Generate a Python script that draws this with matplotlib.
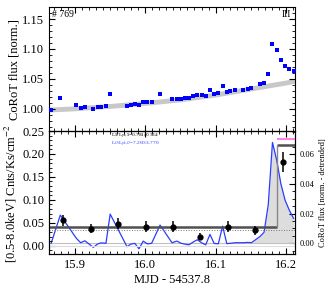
import numpy as np
import matplotlib
matplotlib.use("Agg")
import matplotlib.pyplot as plt
from matplotlib.ticker import MultipleLocator

plt.rcParams['font.family'] = ['Liberation Serif', 'DejaVu Serif']
plt.rcParams['mathtext.fontset'] = 'stix'

# CoRoT optical light curve (normalised), MJD - 54537.8
mjd = [15.866, 15.879, 15.902, 15.908, 15.914, 15.926, 15.932, 15.937, 15.944, 15.950,
       15.974, 15.979, 15.985, 15.991, 15.997, 16.003, 16.009, 16.021, 16.038, 16.045,
       16.051, 16.056, 16.062, 16.068, 16.074, 16.080, 16.086, 16.092, 16.098, 16.104,
       16.110, 16.116, 16.121, 16.128, 16.139, 16.146, 16.151, 16.163, 16.169, 16.175,
       16.181, 16.187, 16.193, 16.199, 16.205, 16.211]
flux = [0.998, 1.018, 1.006, 1.001, 1.003, 1.000, 1.003, 1.003, 1.004, 1.025,
        1.004, 1.007, 1.008, 1.006, 1.011, 1.011, 1.011, 1.025, 1.016, 1.017,
        1.017, 1.018, 1.018, 1.021, 1.023, 1.023, 1.022, 1.031, 1.025, 1.026,
        1.038, 1.028, 1.029, 1.031, 1.032, 1.033, 1.035, 1.041, 1.043, 1.059,
        1.108, 1.099, 1.081, 1.072, 1.067, 1.063]
# detrended flux (right axis)
resid = [0.0, 0.019, 0.0033, 0.0004, 0.0017, -0.0027, -0.0005, 0.0003, 0.0, 0.0197,
         -0.0023, -0.0006, 0.0, -0.0037, 0.0015, -0.0004, 0.0, 0.0123, 0.0004, 0.0015,
         0.0, -0.0005, -0.001, 0.0008, 0.0024, 0.0004, -0.001, 0.006, -0.0001, -0.0003,
         0.0116, -0.0002, 0.0, 0.0004, 0.0004, 0.0006, 0.0004, 0.0045, 0.0074, 0.026,
         0.068, 0.056, 0.040, 0.029, 0.0223, 0.0168]
flare_start = 36  # first index of the shaded flare region

# slow trend fitted to the optical data
trend_mjd = [15.863, 15.90, 15.95, 16.00, 16.05, 16.10, 16.15, 16.20, 16.213]
trend_flux = [0.998, 1.000, 1.004, 1.009, 1.015, 1.023, 1.033, 1.043, 1.046]

# X-ray count rates
xmjd = [15.883, 15.922, 15.961, 16.001, 16.039, 16.078, 16.118, 16.156, 16.196]
rate = [0.055, 0.037, 0.048, 0.041, 0.041, 0.020, 0.041, 0.034, 0.182]
rate_err = [0.012, 0.010, 0.012, 0.012, 0.012, 0.008, 0.012, 0.010, 0.022]

# bayesian blocks
block_edges = [15.863, 16.187, 16.213]
block_rates = [0.040, 0.220]
quiet_level = 0.035
pink_edges = [16.187, 16.213]
pink_level = 0.233

xlim = (15.863, 16.213)

fig = plt.figure(figsize=(3.27, 2.89), dpi=100)
ax_t = fig.add_axes([0.150, 0.5467, 0.752, 0.429])
ax_b = fig.add_axes([0.150, 0.1211, 0.752, 0.4256])
ax_r = ax_b.twinx()

# --- top panel
ax_t.plot(trend_mjd, trend_flux, color='#c8c8c8', lw=3.5, solid_capstyle='butt', zorder=1)
ax_t.plot(mjd, flux, 's', color='#0000ff', ms=2.6, mew=0, zorder=3)
ax_t.set_xlim(*xlim)
ax_t.set_ylim(0.963, 1.17)
ax_t.yaxis.set_major_locator(MultipleLocator(0.05))
ax_t.yaxis.set_minor_locator(MultipleLocator(0.01))
ax_t.xaxis.set_major_locator(MultipleLocator(0.1))
ax_t.xaxis.set_minor_locator(MultipleLocator(0.01))
ax_t.set_xticklabels([])
ax_t.tick_params(which='both', direction='in', top=True, right=True, labelsize=9)
ax_t.tick_params(which='major', length=4)
ax_t.tick_params(which='minor', length=2)
ax_t.yaxis.set_major_formatter(matplotlib.ticker.FormatStrFormatter('%.2f'))
ax_t.text(0.01, 0.975, '# 769', transform=ax_t.transAxes, fontsize=7, va='top', ha='left')
ax_t.text(0.985, 0.975, 'III', transform=ax_t.transAxes, fontsize=7, va='top', ha='right')

# --- bottom panel, optical residuals on right axis
ax_r.fill_between(mjd[flare_start:], 0, resid[flare_start:], color='#dddddd', lw=0)
ax_r.axhline(0, color='#c0c0c0', lw=0.8)
ax_r.plot(mjd, resid, color='#2a3cff', lw=0.9)
ax_r.set_ylim(-0.0072, 0.0757)
ax_r.yaxis.set_major_locator(MultipleLocator(0.02))
ax_r.yaxis.set_minor_locator(MultipleLocator(0.005))
ax_r.tick_params(which='both', direction='in', labelsize=6)
ax_r.tick_params(which='major', length=4)
ax_r.tick_params(which='minor', length=2)
ax_r.yaxis.set_major_formatter(matplotlib.ticker.FormatStrFormatter('%.2f'))
ax_r.set_ylabel('CoRoT flux [norm. - detrended]', fontsize=6, labelpad=3)

# X-ray on left axis, drawn above the residuals
ax_b.set_zorder(ax_r.get_zorder() + 1)
ax_b.patch.set_visible(False)
ax_b.axhline(0, color='#dddddd', lw=0.8)
ax_b.axhline(quiet_level, color='#777777', lw=0.7, ls=':')
for i in range(len(block_rates)):
    ax_b.hlines(block_rates[i], block_edges[i], block_edges[i + 1], color='#505050', lw=1.8)
for i in range(1, len(block_rates)):
    ax_b.vlines(block_edges[i], block_rates[i - 1], block_rates[i], color='#888888', lw=1.0)
ax_b.hlines(pink_level, pink_edges[0], pink_edges[1], color='#ff80ee', lw=1.5)
ax_b.errorbar(xmjd, rate, yerr=rate_err, fmt='o', color='black', ms=3.5, elinewidth=1.1, capsize=0)
ax_b.set_xlim(*xlim)
ax_b.set_ylim(-0.018, 0.25)
ax_b.yaxis.set_major_locator(MultipleLocator(0.05))
ax_b.yaxis.set_minor_locator(MultipleLocator(0.01))
ax_b.xaxis.set_major_locator(MultipleLocator(0.1))
ax_b.xaxis.set_minor_locator(MultipleLocator(0.01))
ax_b.yaxis.set_major_formatter(matplotlib.ticker.FormatStrFormatter('%.2f'))
ax_b.tick_params(which='both', direction='in', top=True, labelsize=9)
ax_b.tick_params(which='major', length=4)
ax_b.tick_params(which='minor', length=2)
ax_b.set_xlabel('MJD - 54537.8', fontsize=9, labelpad=2)

ax_b.text(0.25, 0.962, r'L$_X$/L$_{pk,X}$=0.781/0.334', transform=ax_b.transAxes,
          fontsize=3.8, va='center', ha='left', color='black', zorder=5)
ax_b.text(0.25, 0.895, r'L$_O$/L$_{pk,O}$=7.260/3.770', transform=ax_b.transAxes,
          fontsize=3.8, va='center', ha='left', color='#2a3cff', zorder=5)

fig.text(0.045, 0.76, 'CoRoT flux [norm.]', rotation=90, fontsize=9, ha='center', va='center')
fig.text(0.035, 0.33, r'[0.5-8.0keV] Cnts/Ks/cm$^{-2}$', rotation=90, fontsize=9,
         ha='center', va='center')

fig.savefig('out.png', dpi=100)
